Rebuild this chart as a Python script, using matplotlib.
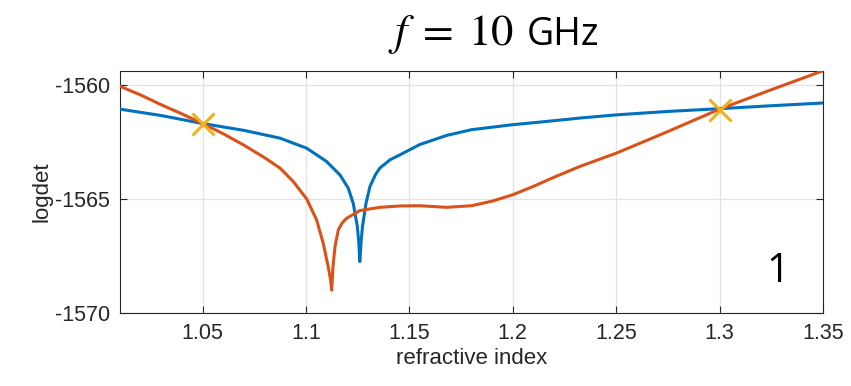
import matplotlib

matplotlib.use("Agg")
import matplotlib.pyplot as plt

# blue curve
blue_x = [1.01, 1.03, 1.05, 1.07, 1.0874, 1.1003, 1.1099, 1.1164, 1.1204, 1.1228,
          1.1248, 1.1255, 1.126, 1.1266, 1.1273, 1.129, 1.1309, 1.1335, 1.1357, 1.1406,
          1.1454, 1.155, 1.168, 1.18, 1.2, 1.215, 1.2324, 1.25, 1.275, 1.3, 1.325, 1.35]
blue_y = [-1561.07, -1561.35, -1561.7, -1562.0, -1562.34, -1562.78, -1563.36, -1563.95,
          -1564.53, -1565.19, -1566.21, -1566.9, -1567.75, -1566.9, -1566.21, -1565.19,
          -1564.46, -1563.95, -1563.65, -1563.29, -1563.07, -1562.62, -1562.22,
          -1561.97, -1561.75, -1561.62, -1561.46, -1561.32, -1561.17, -1561.05,
          -1560.92, -1560.8]

# orange curve
orange_x = [1.01, 1.02, 1.03, 1.04, 1.05, 1.06, 1.07, 1.08, 1.0874, 1.0938, 1.1003,
            1.1051, 1.1083, 1.1107, 1.1118, 1.1124, 1.113, 1.114, 1.1156, 1.1175,
            1.1196, 1.1261, 1.1357, 1.1454, 1.155, 1.168, 1.18, 1.19, 1.2, 1.21,
            1.22, 1.2324, 1.25, 1.275, 1.3, 1.325, 1.35]
orange_y = [-1560.07, -1560.45, -1560.88, -1561.28, -1561.7, -1562.15, -1562.65,
            -1563.2, -1563.65, -1564.24, -1565.0, -1565.92, -1566.94, -1567.97,
            -1568.5, -1569.0, -1568.0, -1567.09, -1566.36, -1566.05, -1565.85,
            -1565.51, -1565.37, -1565.31, -1565.3, -1565.37, -1565.3, -1565.1,
            -1564.82, -1564.45, -1564.05, -1563.58, -1563.0, -1562.05, -1561.07,
            -1560.22, -1559.39]

# crossing markers
cross_x = [1.05, 1.3]
cross_y = [-1561.7, -1561.1]

xticks = [1.05, 1.1, 1.15, 1.2, 1.25, 1.3, 1.35]
xtick_labels = ["1.05", "1.1", "1.15", "1.2", "1.25", "1.3", "1.35"]
yticks = [-1570, -1565, -1560]

plt.rcParams["font.family"] = ["Liberation Sans", "DejaVu Sans"]
plt.rcParams["mathtext.fontset"] = "stix"
plt.rcParams["axes.unicode_minus"] = False

fig = plt.figure(figsize=(8.51, 3.86), dpi=100)
ax = fig.add_axes([0.141, 0.189, 0.826, 0.627])

ax.plot(blue_x, blue_y, color="#0072BD", lw=2.2, zorder=3)
ax.plot(orange_x, orange_y, color="#D95319", lw=2.2, zorder=3)
ax.plot(cross_x, cross_y, "x", color="#EDB120", ms=16, mew=2.2, zorder=4)

ax.set_xlim(1.01, 1.35)
ax.set_ylim(-1570, -1559.4)
ax.set_xticks(xticks)
ax.set_xticklabels(xtick_labels)
ax.set_yticks(yticks)
ax.grid(True, color="#e3e3e3", lw=0.9)
ax.set_axisbelow(True)
ax.tick_params(direction="in", top=True, right=True, labelsize=15.5,
               colors="#262626", length=5, width=0.8, pad=7)
for s in ax.spines.values():
    s.set_color("#262626")
    s.set_linewidth(0.8)

ax.set_xlabel("refractive index", fontsize=16, color="#262626", labelpad=3)
ax.set_ylabel("logdet", fontsize=16, color="#262626", labelpad=2)

ax.text(1.328, -1568.2, "1", fontsize=29, ha="center", va="center",
        family="Open Sans")
# title: math part and unit set separately so each can be sized like the original
fig.text(0.603, 0.883, "$f\\;=\\;10$", fontsize=32, ha="right", va="baseline")
fig.text(0.619, 0.883, "GHz", fontsize=27, ha="left", va="baseline",
         family="Open Sans")

fig.savefig("out.png", dpi=100)
